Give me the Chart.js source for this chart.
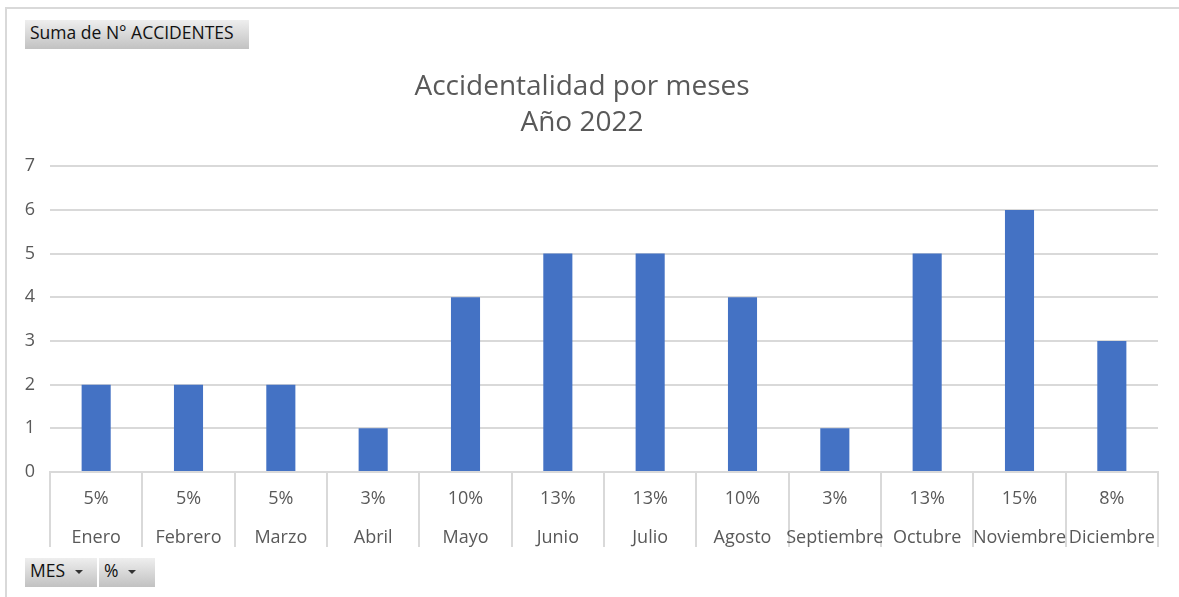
<!DOCTYPE html>
<html>
<head>
<meta charset="utf-8">
<script src="https://cdn.jsdelivr.net/npm/chart.js@4"></script>
<style>
  html, body { margin: 0; padding: 0; background: #fff; }
  #wrap { position: relative; width: 1179px; height: 597px; overflow: hidden; }
  #frame { position: absolute; left: 5px; top: 7px; width: 1200px; height: 620px;
           border-left: 2px solid #d9d9d9; border-top: 2px solid #d9d9d9; }
  .btn { position: absolute; height: 29px; line-height: 29px; font: 17.5px "Open Sans", sans-serif;
         color: #111; background: linear-gradient(#eeeeee, #c2c2c2); padding-left: 5px; box-sizing: border-box; }
  .arrow { display: inline-block; width: 0; height: 0; border-left: 4px solid transparent;
           border-right: 4px solid transparent; border-top: 4px solid #333; margin-left: 10px; vertical-align: middle; }
  canvas { position: absolute; left: 0; top: 0; }
</style>
</head>
<body>
<div id="wrap">
  <div id="frame"></div>
  <canvas id="chart" width="1179" height="597"></canvas>
  <div class="btn" style="left:25px; top:20px; width:224px;">Suma de N° ACCIDENTES</div>
  <div class="btn" style="left:25px; top:558px; width:72px;">MES<span class="arrow"></span></div>
  <div class="btn" style="left:99px; top:558px; width:56px;">%<span class="arrow"></span></div>
</div>
<script>
const meses = ['Enero', 'Febrero', 'Marzo', 'Abril', 'Mayo', 'Junio', 'Julio',
               'Agosto', 'Septiembre', 'Octubre', 'Noviembre', 'Diciembre'];
const porcentajes = ['5%', '5%', '5%', '3%', '10%', '13%', '13%', '10%', '3%', '13%', '15%', '8%'];
const accidentes = [2, 2, 2, 1, 4, 5, 5, 4, 1, 5, 6, 3];

const etiquetas = meses.map((m, i) => [porcentajes[i], m]);

const ctx = document.getElementById('chart').getContext('2d');
new Chart(ctx, {
    type: 'bar',
    data: {
        labels: etiquetas,
        datasets: [{
            label: 'Suma de N° ACCIDENTES',
            data: accidentes,
            backgroundColor: '#4472c4',
            borderWidth: 0,
            barPercentage: 0.63,
            categoryPercentage: 0.5
        }]
    },
    options: {
        responsive: false,
        animation: false,
        layout: { padding: { top: 59, left: 6, right: 21, bottom: 0 } },
        plugins: {
            legend: { display: false },
            tooltip: { enabled: false },
            title: {
                display: true,
                text: ['Accidentalidad por meses', 'Año 2022'],
                color: '#595959',
                font: { family: 'Open Sans', size: 28, weight: 'normal', lineHeight: 1.29 },
                padding: { top: 10, bottom: 25 }
            }
        },
        scales: {
            x: {
                afterFit: s => { s.height = 125; },
                border: { color: '#d9d9d9', width: 2 },
                grid: {
                    offset: true,
                    drawOnChartArea: false,
                    drawTicks: true,
                    tickLength: 75,
                    color: '#d9d9d9',
                    lineWidth: 2
                },
                ticks: {
                    color: '#595959',
                    padding: -67,
                    maxRotation: 0,
                    autoSkip: false,
                    font: { family: 'Open Sans', size: 18, lineHeight: 2.15 }
                }
            },
            y: {
                min: 0,
                max: 7,
                afterFit: s => { s.width = 44; },
                border: { display: false },
                grid: { color: '#d9d9d9', lineWidth: 2, drawTicks: false },
                ticks: {
                    stepSize: 1,
                    color: '#595959',
                    padding: 15,
                    font: { family: 'Open Sans', size: 18 }
                }
            }
        }
    }
});
</script>
</body>
</html>
